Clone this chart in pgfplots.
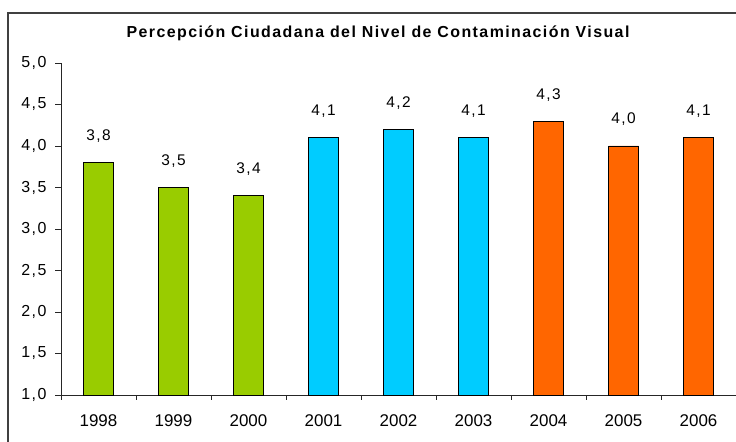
\documentclass[border=0pt]{standalone}
\usepackage{fontspec}
\setmainfont{Liberation Sans}
\usepackage{pgfplots}
\pgfplotsset{compat=1.18}
\definecolor{cgreen}{HTML}{99CC00}
\definecolor{ccyan}{HTML}{00CCFF}
\definecolor{corange}{HTML}{FF6600}
\begin{document}
\begin{tikzpicture}[x=1bp,y=1bp]
\useasboundingbox (0,0) rectangle (736,442);
\draw[line width=1.5bp, black!75] (8,-10) rectangle (760,429);
\node[anchor=base, font=\bfseries\fontsize{16}{18}\selectfont\addfontfeature{LetterSpace=9}] at (378,404) {Percepción Ciudadana del Nivel de Contaminación Visual};
\begin{axis}[
  at={(61bp,47bp)}, anchor=south west,
  scale only axis, width=675bp, height=332bp,
  ymin=1, ymax=5, xmin=-0.5, xmax=8.5,
  axis x line*=bottom, axis y line*=left,
  axis line style={black!85, line width=0.8bp, -},
  ytick={1,1.5,2,2.5,3,3.5,4,4.5,5},
  yticklabel style={/pgf/number format/use comma, /pgf/number format/fixed, /pgf/number format/fixed zerofill, /pgf/number format/precision=1, xshift=-5bp,
    font=\fontsize{16}{18}\selectfont\addfontfeature{LetterSpace=9}},
  xtick={0,...,8},
  xticklabels={1998,1999,2000,2001,2002,2003,2004,2005,2006},
  minor xtick={-0.5,0.5,1.5,2.5,3.5,4.5,5.5,6.5,7.5,8.5},
  major x tick style={draw=none},
  minor tick style={black!85, line width=0.8bp},
  major tick style={black!85, line width=0.8bp},
  tick align=outside, major tick length=6bp, minor tick length=5bp,
  xticklabel style={yshift=-10bp, font=\fontsize{17}{19}\selectfont},
  /pgf/number format/assume math mode=true,
  ybar, bar width=30bp, bar shift=0pt,
  nodes near coords,
  nodes near coords style={font=\fontsize{15.5}{17}\selectfont\addfontfeature{LetterSpace=9}, anchor=base, inner sep=0pt, yshift=22bp,
    /pgf/number format/use comma, /pgf/number format/fixed, /pgf/number format/fixed zerofill, /pgf/number format/precision=1},
  clip=false,
]
\addplot[draw=black, line width=0.8bp, fill=cgreen] coordinates {(0,3.8) (1,3.5) (2,3.4)};
\addplot[draw=black, line width=0.8bp, fill=ccyan] coordinates {(3,4.1) (4,4.2) (5,4.1)};
\addplot[draw=black, line width=0.8bp, fill=corange] coordinates {(6,4.3) (7,4.0) (8,4.1)};
\end{axis}
\end{tikzpicture}
\end{document}
